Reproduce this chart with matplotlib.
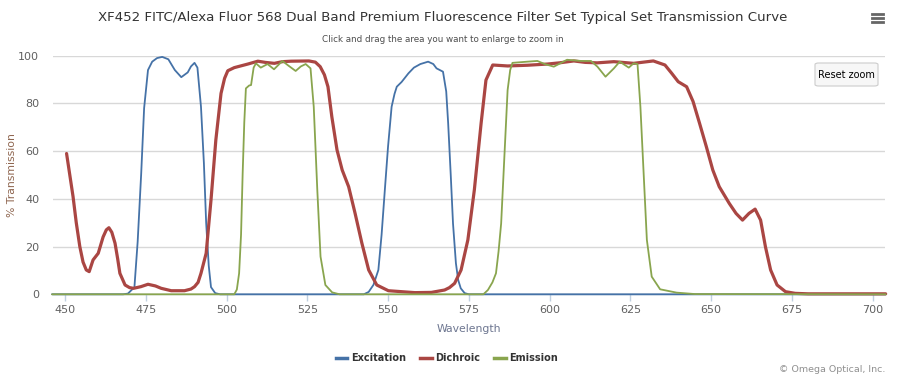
import matplotlib
matplotlib.use("Agg")
import matplotlib.pyplot as plt
from matplotlib.patches import FancyBboxPatch
from matplotlib.lines import Line2D

# ---------------- data ----------------
title = "XF452 FITC/Alexa Fluor 568 Dual Band Premium Fluorescence Filter Set Typical Set Transmission Curve"
subtitle = "Click and drag the area you want to enlarge to zoom in"
x_ticks = [450, 475, 500, 525, 550, 575, 600, 625, 650, 675, 700]
y_ticks = [0, 20, 40, 60, 80, 100]
series_names = ["Excitation", "Dichroic", "Emission"]

excitation_wl = [446, 468, 469.5, 471.5, 472.5, 473.6, 474.5, 475.7, 477, 478.5,
                 480.1, 482, 484, 486, 488, 489, 490.1, 491, 492.1, 493,
                 493.7, 494.5, 495.2, 496.5, 498, 542.5, 544, 545.5, 547, 548,
                 549, 550, 551.1, 552, 552.7, 554.2, 556.3, 558, 560, 562.4,
                 564, 565, 567, 568, 568.6, 569.4, 570.1, 571, 571.7, 572.5,
                 573.7, 575, 704]
excitation_t = [0, 0, 0.3, 3, 22, 50.7, 78, 94, 97.5, 99,
                99.5, 98.5, 94, 91, 93, 95.5, 97, 95, 78.6, 55,
                30, 12, 3, 0.5, 0, 0, 1, 4, 10.2, 25,
                43.7, 62, 78.6, 84, 87, 89, 92.6, 95, 96.5, 97.5,
                96.5, 94.7, 93.3, 85, 71.7, 50, 29.7, 13, 6, 2.5,
                0.5, 0, 0]

dichroic_wl = [450.5, 451.5, 452.5, 453.5, 454.6, 455.6, 456.6, 457.5, 458.7, 460.3,
               461.8, 462.8, 463.6, 464.5, 465.5, 466.3, 467, 468.6, 470, 471.2,
               473.5, 475.7, 478, 479.8, 482.9, 487, 489, 490.1, 491.2, 492.1,
               493.7, 495.2, 496.7, 498.3, 499.4, 500.4, 502.4, 506.6, 509.7, 512,
               514.8, 517.3, 520, 525.5, 527.5, 529, 530.3, 531.4, 532.6, 534.2,
               535.8, 537.8, 539.8, 541.9, 544, 546.5, 550.1, 558.3, 563.4, 567.5,
               569, 570.6, 572.6, 574.7, 576.7, 578.8, 580.3, 582.4, 587, 593.1,
               599.3, 603, 607.5, 611, 614.7, 619.9, 626, 632.1, 635.7, 637.8,
               639.8, 642.4, 644.4, 646.4, 648.5, 650.5, 652.5, 655.6, 657.7, 659.7,
               661.7, 663.6, 665.3, 666.8, 668.4, 670.4, 673, 676, 680, 704]
dichroic_t = [59, 50, 41, 30, 20, 13.5, 10.2, 9.5, 14.4, 17.2,
              24, 27, 27.9, 26, 21.4, 15, 8.8, 3.9, 2.8, 2.5,
              3.2, 4.2, 3.5, 2.5, 1.5, 1.5, 2.2, 3.2, 5, 8.8,
              17.2, 39.5, 64.7, 84.2, 90.5, 93.7, 95, 96.5, 97.7, 97.2,
              96.8, 97.5, 97.7, 97.8, 97.3, 95.4, 92, 87, 74.4, 60.5,
              52.1, 45.1, 33.9, 21.4, 10.2, 3.9, 1.5, 0.7, 0.8, 1.8,
              2.8, 4.6, 10.2, 22.8, 43.7, 71.7, 89.8, 96.1, 95.7, 96,
              96.5, 97, 97.8, 97.2, 97, 97.5, 96.8, 97.8, 96.1, 92.6,
              89.1, 87, 80.8, 71.7, 61.9, 52.1, 45.1, 38.1, 33.9, 31.1,
              33.9, 35.7, 31.1, 19.9, 10.2, 3.9, 1.1, 0.4, 0.2, 0.2]

emission_wl = [446, 502.4, 503.2, 503.9, 504.5, 505, 505.5, 506, 507, 507.6,
               508.4, 509.1, 510.6, 512.7, 514.7, 517.3, 519, 521.4, 523, 524.5,
               526, 527, 528.1, 529.1, 530.6, 532.7, 535, 579.5, 580.9, 582.3,
               583.4, 584.2, 585, 586, 587, 587.8, 588.5, 593.1, 596.2, 598.5,
               601.3, 605.4, 609.7, 612.8, 614.8, 617.3, 619.9, 621.7, 624.5, 626,
               627.2, 628.1, 629.1, 630.1, 631.6, 634.2, 639.3, 645, 704]
emission_t = [0, 0, 2, 8.8, 25, 50.7, 72, 86.3, 87.5, 87.7,
              95, 96.8, 95, 96.5, 94.3, 97.8, 96, 93.6, 95.5, 96.5,
              94.7, 78.6, 43.7, 15.8, 3.9, 0.8, 0, 0, 1.8, 5,
              8.8, 18, 29.7, 57.7, 85.6, 94, 97, 97.5, 97.8, 96.5,
              95.4, 98.3, 97.8, 97.8, 95.4, 91.2, 94.7, 97.5, 95, 96.8,
              96.5, 78.6, 50.7, 22.8, 7.4, 2.1, 0.7, 0.1, 0]

# ---------------- styling ----------------
colors = ["#4572A7", "#AA4643", "#89A54E"]
widths = [1.3, 2.3, 1.3]
W, H, DPI = 900, 380, 100

plt.rcParams['font.family'] = ['DejaVu Sans']
fig = plt.figure(figsize=(W / DPI, H / DPI), dpi=DPI)
fig.patch.set_facecolor("white")

def fx(px):
    return px / W

def fy(py):
    return 1 - py / H

ax = fig.add_axes([fx(53), fy(294.3), fx(885) - fx(53), fy(55.7) - fy(294.3)])
ax.set_xlim(446.3, 703.8)
ax.set_ylim(0, 100)

series = [(excitation_wl, excitation_t), (dichroic_wl, dichroic_t), (emission_wl, emission_t)]
for (xs, ys), c, lw, name in zip(series, colors, widths, series_names):
    ax.plot(xs, ys, color=c, lw=lw, clip_on=False, zorder=3,
            solid_joinstyle="round", solid_capstyle="round", label=name)

for s in ["top", "right", "left"]:
    ax.spines[s].set_visible(False)
ax.spines["bottom"].set_color("#C0D0E0")
ax.spines["bottom"].set_linewidth(1)

ax.set_xticks(x_ticks)
ax.set_yticks(y_ticks)
ax.tick_params(axis="x", colors="#C0D0E0", length=5, width=1, labelcolor="#606060",
               labelsize=8, pad=3)
ax.tick_params(axis="y", length=0, labelcolor="#606060", labelsize=8, pad=10)
ax.grid(axis="y", color="#D8D8D8", lw=1)
ax.set_axisbelow(True)

ax.set_xlabel("Wavelength", color="#6d7690", fontsize=7.8, labelpad=6)
ax.set_ylabel("% Transmission", color="#8f6650", fontsize=7.8, va="center")
ax.yaxis.set_label_coords(fx(12), (fy(55.7) + fy(294.3)) / 2, transform=fig.transFigure)

fig.text(fx(443), fy(18), title, ha="center", va="center", fontsize=9.6,
         color="#333333")
fig.text(fx(443), fy(40), subtitle, ha="center", va="center", fontsize=6.3,
         color="#4d4d4d")

# legend
handles = [Line2D([0], [0], color=c, lw=2.5) for c in colors]
leg = fig.legend(handles, series_names, loc="center", bbox_to_anchor=(fx(447), fy(358)),
                 ncol=3, frameon=False, fontsize=7, handlelength=1.2,
                 handletextpad=0.4, columnspacing=1.4)
for t in leg.get_texts():
    t.set_fontweight("bold")
    t.set_color("#333333")

fig.text(fx(885), fy(370), "\u00a9 Omega Optical, Inc.", ha="right", va="center",
         fontsize=6.8, color="#909090")

# reset zoom button
btn = FancyBboxPatch((fx(815), fy(86)), fx(878) - fx(815), fy(63) - fy(86),
                     boxstyle="round,pad=0,rounding_size=0.004", transform=fig.transFigure,
                     facecolor="#F7F7F7", edgecolor="#CCCCCC", lw=0.8, zorder=5)
fig.add_artist(btn)
fig.text(fx(846.5), fy(74.5), "Reset zoom", ha="center", va="center", fontsize=7,
         color="#000000", zorder=6)

# context menu icon (three bars)
for yy in [14, 18, 22]:
    fig.add_artist(Line2D([fx(872), fx(883)], [fy(yy), fy(yy)], color="#666666", lw=2,
                          transform=fig.transFigure))

fig.savefig("out.png", dpi=DPI, facecolor="white")
